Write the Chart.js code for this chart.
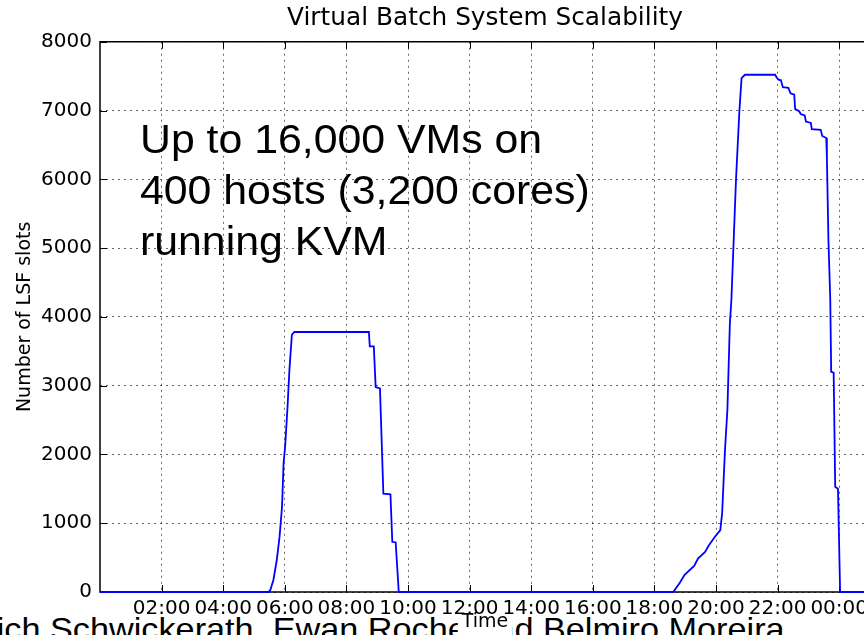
<!DOCTYPE html>
<html><head><meta charset="utf-8">
<script src="https://cdn.jsdelivr.net/npm/chart.js@4"></script>
<style>
html,body{margin:0;padding:0;background:#fff;overflow:hidden;width:864px;height:635px;}
#credit{position:absolute;left:-47px;top:609px;font-family:"Liberation Sans",Arial,sans-serif;font-size:32px;line-height:40px;white-space:nowrap;transform:scaleX(1.07);transform-origin:0 0;color:#000;z-index:0;}
#wrap{position:absolute;left:0;top:0;width:970px;height:635px;z-index:1;}
#note{position:absolute;left:140px;top:114px;font-family:"Liberation Sans",Arial,sans-serif;font-size:40px;line-height:51px;white-space:nowrap;transform:scaleX(1.07);transform-origin:0 0;z-index:2;color:#000;}
</style></head>
<body>
<div id="credit">Ulrich Schwickerath, Ewan Roche and Belmiro Moreira</div>
<div id="wrap"><canvas id="c" width="970" height="635"></canvas></div>
<div id="note">Up to 16,000 VMs on<br>400 hosts (3,200 cores)<br>running KVM</div>
<script>
const timeHours = [0, 5.47, 5.53, 5.63, 5.74, 5.83, 5.91, 5.96, 6.01, 6.09, 6.15, 6.23, 6.31, 8.73, 8.76, 8.89, 8.95, 9.09, 9.20, 9.43, 9.49, 9.60, 9.70,
  18.61, 18.82, 18.98, 19.29, 19.42, 19.64, 19.77, 19.96, 20.14, 20.20, 20.29, 20.37, 20.45, 20.50, 20.65, 20.76, 20.83, 20.94,
  21.92, 21.97, 22.03, 22.11, 22.17, 22.35, 22.42, 22.54, 22.57, 22.70, 22.75, 22.88, 22.92, 23.08, 23.11, 23.40, 23.45, 23.58,
  23.60, 23.65, 23.71, 23.74, 23.82, 23.87, 23.96, 24.03, 25];
const lsfSlots = [0, 0, 30, 175, 465, 805, 1240, 1870, 2110, 2700, 3230, 3740, 3780, 3780, 3570, 3570, 2980, 2960, 1430, 1420, 730, 720, 0,
  0, 130, 250, 380, 490, 580, 680, 800, 900, 1150, 2050, 2650, 3900, 4250, 6000, 7000, 7470, 7520,
  7520, 7480, 7450, 7440, 7340, 7330, 7250, 7230, 7020, 6990, 6950, 6930, 6840, 6820, 6730, 6720, 6630, 6600,
  6330, 5120, 4250, 3200, 3190, 1530, 1500, 0, 0];
const xTickHours = [2, 4, 6, 8, 10, 12, 14, 16, 18, 20, 22, 24];
const xTickLabels = ['02:00','04:00','06:00','08:00','10:00','12:00','14:00','16:00','18:00','20:00','22:00','00:00'];
const yTickValues = [0, 1000, 2000, 3000, 4000, 5000, 6000, 7000, 8000];

const FONT = 'DejaVu Sans';
Chart.defaults.font.family = FONT;
Chart.defaults.color = '#000';

const framePlugin = {
  id: 'frame',
  beforeDraw(chart) {
    const {ctx, chartArea: a} = chart;
    ctx.save();
    ctx.font = '19px "' + FONT + '"';
    const w = ctx.measureText('Time').width;
    ctx.fillStyle = '#fff';
    ctx.fillRect((a.left + a.right) / 2 - w / 2 - 4, 611, w + 8, 24);
    ctx.restore();
  },
  beforeDatasetsDraw(chart) {
    const {ctx, chartArea: a, scales} = chart;
    ctx.save();
    ctx.strokeStyle = '#000';
    ctx.lineWidth = 1;
    ctx.beginPath();
    scales.x.ticks.forEach(t => {
      const px = Math.round(scales.x.getPixelForValue(t.value)) + 0.5;
      ctx.moveTo(px, a.bottom); ctx.lineTo(px, a.bottom - 7);
      ctx.moveTo(px, a.top); ctx.lineTo(px, a.top + 7);
    });
    scales.y.ticks.forEach(t => {
      const py = Math.round(scales.y.getPixelForValue(t.value)) + 0.5;
      ctx.moveTo(a.left, py); ctx.lineTo(a.left + 7, py);
    });
    ctx.stroke();
    ctx.lineWidth = 1.5;
    ctx.strokeRect(a.left, a.top, a.right - a.left, a.bottom - a.top);
    ctx.restore();
  }
};

new Chart(document.getElementById('c'), {
  type: 'line',
  data: {
    datasets: [{
      data: timeHours.map((h, i) => ({x: h, y: lsfSlots[i]})),
      borderColor: '#0000ff',
      borderWidth: 1.8,
      pointRadius: 0,
      tension: 0,
      fill: false,
      clip: 4
    }]
  },
  options: {
    responsive: false,
    animation: false,
    devicePixelRatio: 1,
    layout: {padding: {left: 0, right: 0, top: 0, bottom: 0}},
    plugins: {
      legend: {display: false},
      tooltip: {enabled: false},
      title: {
        display: true,
        text: 'Virtual Batch System Scalability',
        color: '#000',
        font: {family: FONT, size: 24.8, weight: 'normal'},
        padding: {top: 4, bottom: 8}
      }
    },
    scales: {
      x: {
        type: 'linear',
        min: 0, max: 25,
        afterBuildTicks: s => { s.ticks = xTickHours.map(v => ({value: v})); },
        afterFit: s => { s.height = 43; },
        ticks: {
          callback: v => xTickLabels[xTickHours.indexOf(v)],
          color: '#000',
          font: {family: FONT, size: 20},
          padding: 5,
          maxRotation: 0,
          autoSkip: false
        },
        grid: {color: 'rgba(0,0,0,0.6)', lineWidth: 1, drawTicks: false},
        border: {display: false, dash: [2, 4]},
        title: {display: true, text: 'Time', color: '#000', font: {family: FONT, size: 19}, padding: {top: 0, bottom: 2}}
      },
      y: {
        min: 0, max: 8000,
        afterBuildTicks: s => { s.ticks = yTickValues.map(v => ({value: v})); },
        afterFit: s => { s.width = 100; },
        ticks: {
          color: '#000',
          font: {family: FONT, size: 20},
          padding: 8,
          callback: v => String(v)
        },
        grid: {color: 'rgba(0,0,0,0.6)', lineWidth: 1, drawTicks: false},
        border: {display: false, dash: [2, 4]},
        title: {display: true, text: 'Number of LSF slots', color: '#000', font: {family: FONT, size: 19}, padding: {top: 14, bottom: 0}}
      },
      yRight: {
        position: 'right',
        min: 0, max: 8000,
        afterFit: s => { s.width = 100; },
        ticks: {display: false},
        grid: {display: false, drawOnChartArea: false},
        border: {display: false}
      }
    }
  },
  plugins: [framePlugin]
});
</script>
</body></html>
